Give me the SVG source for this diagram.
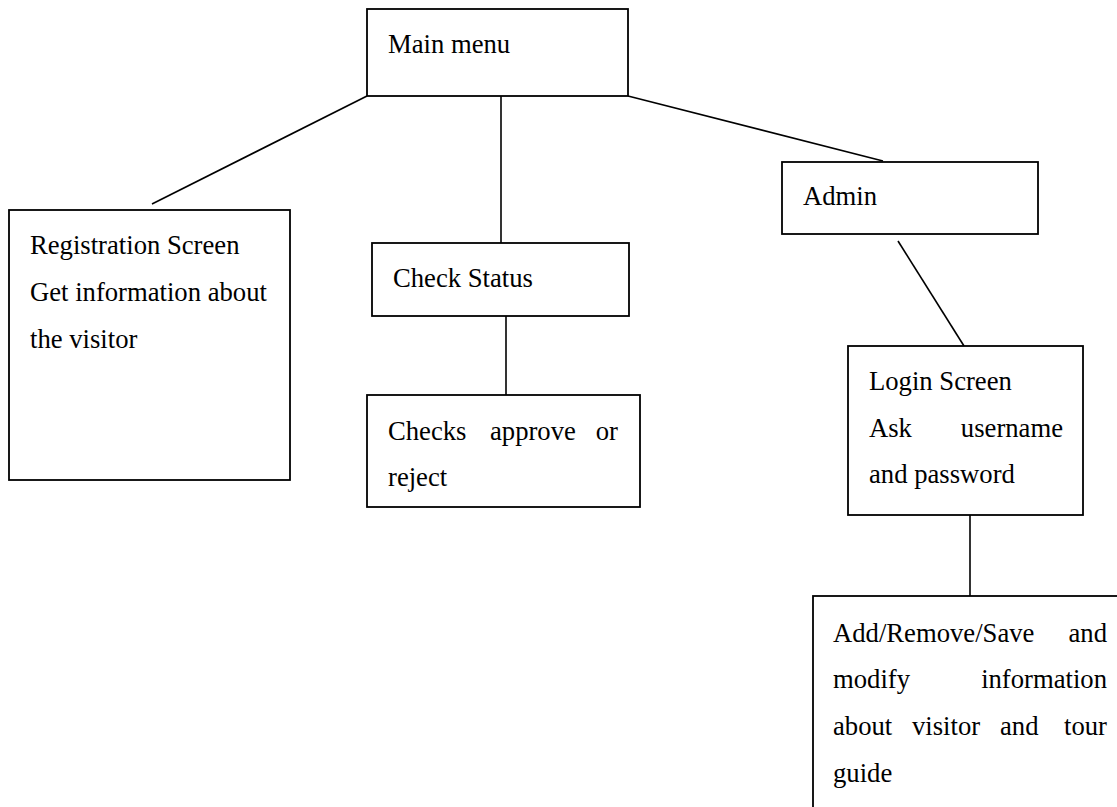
<svg xmlns="http://www.w3.org/2000/svg" width="1117" height="807" viewBox="0 0 1117 807">
<style>
.box{fill:#fff;stroke:#000;stroke-width:1.8}
.lbl{font-family:"Liberation Serif","Times New Roman",serif;font-size:26.67px;fill:#000}
.conn line{stroke:#000;stroke-width:1.6}
</style>
<rect width="1117" height="807" fill="#fff"/>
<g class="conn" id="connectors">
<line x1="367" y1="96" x2="152" y2="204"/>
<line x1="501" y1="96" x2="501" y2="243"/>
<line x1="628" y1="96" x2="883" y2="161"/>
<line x1="506" y1="316" x2="506" y2="395"/>
<line x1="898" y1="241" x2="964" y2="346"/>
<line x1="970" y1="515" x2="970" y2="596"/>
</g>
<g id="main-menu">
<rect class="box" x="367" y="9" width="261" height="87"/>
<text class="lbl" x="388" y="53">Main menu</text>
</g>
<g id="registration">
<rect class="box" x="9" y="210" width="281" height="270"/>
<text class="lbl" x="30" y="254">Registration Screen</text>
<text class="lbl" x="30" y="301">Get information about</text>
<text class="lbl" x="30" y="348">the visitor</text>
</g>
<g id="check-status">
<rect class="box" x="372" y="243" width="257" height="73"/>
<text class="lbl" x="393" y="287">Check Status</text>
</g>
<g id="checks">
<rect class="box" x="367" y="395" width="273" height="112"/>
<text class="lbl" y="440"><tspan x="388">Checks</tspan><tspan x="490">approve</tspan><tspan x="618" text-anchor="end">or</tspan></text>
<text class="lbl" x="388" y="486">reject</text>
</g>
<g id="admin">
<rect class="box" x="782" y="162" width="256" height="72"/>
<text class="lbl" x="803" y="205">Admin</text>
</g>
<g id="login">
<rect class="box" x="848" y="346" width="235" height="169"/>
<text class="lbl" x="869" y="390">Login Screen</text>
<text class="lbl" y="437"><tspan x="869">Ask</tspan><tspan x="1063" text-anchor="end">username</tspan></text>
<text class="lbl" x="869" y="483">and password</text>
</g>
<g id="admin-actions">
<rect class="box" x="813" y="596" width="330" height="240"/>
<text class="lbl" y="642"><tspan x="833">Add/Remove/Save</tspan><tspan x="1107" text-anchor="end">and</tspan></text>
<text class="lbl" y="688"><tspan x="833">modify</tspan><tspan x="1107" text-anchor="end">information</tspan></text>
<text class="lbl" y="735"><tspan x="833">about</tspan><tspan x="912">visitor</tspan><tspan x="1000">and</tspan><tspan x="1107" text-anchor="end">tour</tspan></text>
<text class="lbl" x="833" y="782">guide</text>
</g>
</svg>
